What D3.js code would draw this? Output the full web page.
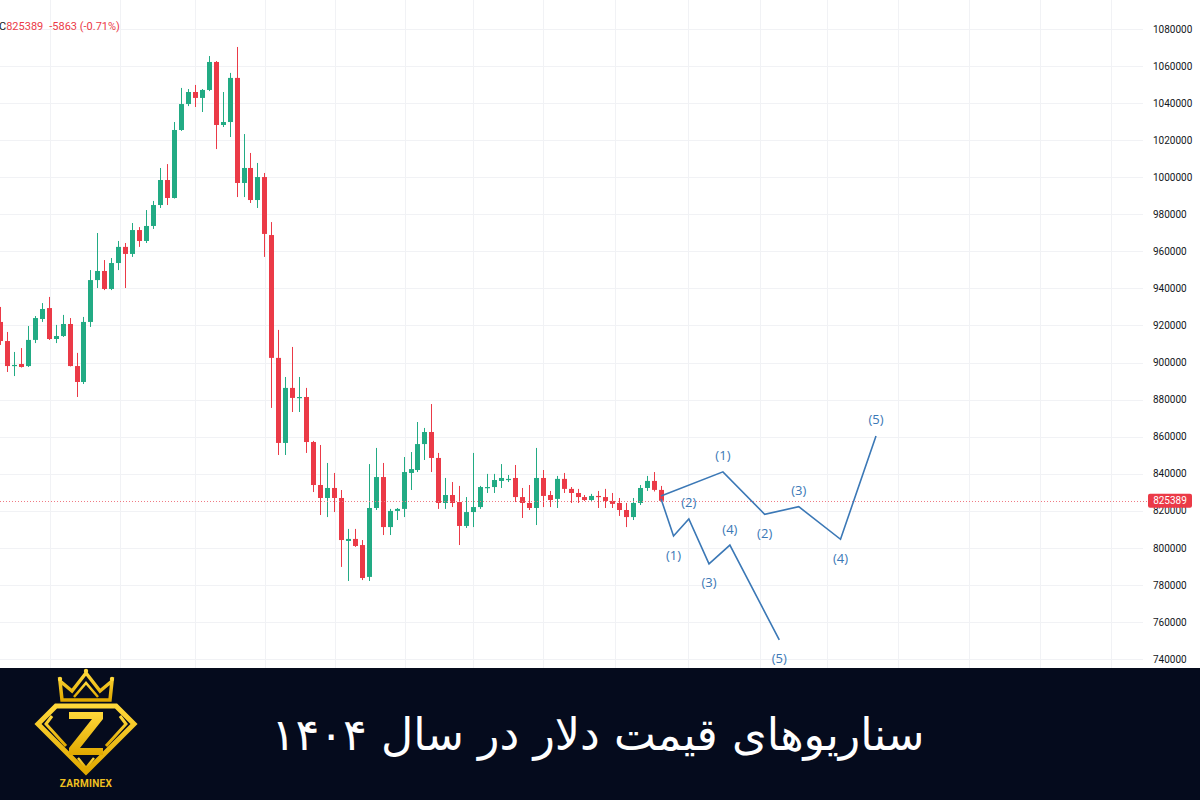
<!DOCTYPE html>
<html>
<head>
<meta charset="utf-8">
<script src="https://cdn.jsdelivr.net/npm/d3@7"></script>
<style>
  html, body { margin: 0; padding: 0; background: #ffffff; }
  svg { display: block; }
</style>
</head>
<body>
<svg id="chart" width="1200" height="800"></svg>
<script>
// ---------- DATA ----------
const opens = [921900,911600,898100,899200,898100,912200,923500,929400,912700,914300,
920800,898100,889500,921900,944500,949400,939700,953700,962400,958600,
971500,965600,973700,985000,998500,988800,1025500,1039500,1046000,1042800,
1047100,1062200,1028200,1029800,1053600,996900,1005000,987700,1000100,968800,
902500,856600,886300,880900,881400,857100,833900,826900,832300,826900,
803700,804800,801500,784300,821500,838200,811200,819900,821000,840400,
842000,856000,862500,848500,824200,828500,824700,811800,819300,822000,
832300,832800,836100,836600,837700,827400,824200,821500,837700,828500,
826400,837200,831800,829600,827400,825800,828000,827400,825300,824200,
820400,816600,824200,832300,836100,831250];
const highs = [930000,916500,905700,907800,919700,925100,932100,935400,920300,925700,
924000,905200,924600,949900,969900,955300,956400,965600,964500,975300,
973100,982300,987200,1005000,1007100,1029800,1048200,1047600,1049800,1047600,
1065400,1062700,1046000,1056300,1070300,1023300,1013100,1007700,1002300,975800,
917600,892200,908400,892200,886300,857700,855500,845800,840400,831200,
810200,810200,804200,845200,853900,845800,821000,821500,849000,851700,
867900,864700,877600,851200,837700,835500,833400,827400,851200,833400,
839900,839900,845200,839300,844700,832300,833900,853900,842000,830700,
838800,840400,832800,831800,828500,829100,830700,831800,829600,826900,
824200,826900,833900,838800,840900,833400];
const lows = [909500,894900,892700,897300,897600,910500,921900,912200,910500,913800,
897900,881400,888400,919200,940200,939100,939100,949900,940200,957000,
962400,964500,972100,983400,985000,988500,1025000,1038400,1037900,1035200,
1046500,1015200,1027100,1021700,989300,989300,986100,983400,957000,875500,
850100,850100,873300,873300,851200,830100,817700,816600,819300,789700,
782100,800500,782600,782100,820400,806900,806900,815000,816600,831200,
840900,847400,840900,821000,821000,822000,801500,810700,811200,821000,
829600,829600,832300,835500,824700,816100,820400,812300,822000,822000,
821500,829600,824200,824200,825300,825300,821500,821500,821500,817200,
811200,815000,823100,830700,830400,825100];
const closes = [911600,898100,898700,897600,912200,924000,928900,912700,914300,920800,
898100,889500,921900,944500,949400,939700,953700,962400,958600,971500,
965600,973700,985000,998500,988800,1025500,1039500,1046000,1042800,1047100,
1062200,1028200,1029800,1053600,996900,1005000,987700,1000100,969400,902500,
856600,886300,880900,881400,857100,833900,826900,832300,826900,804200,
804800,801000,783700,821500,838200,811200,819900,821000,840900,842500,
856000,862500,848500,824200,828500,824200,811800,819300,822000,832800,
832800,836600,837700,837200,827400,824200,821500,837700,828000,825800,
837200,831800,829600,827400,825800,828000,827400,825300,823700,820400,
816600,824200,832300,836100,831252,825389];

const yTicks = [740000,760000,780000,800000,820000,840000,860000,880000,900000,920000,
940000,960000,980000,1000000,1020000,1040000,1060000,1080000];
const vGridIdx = [7.2,17.2,28,38.1,48.1,58.2,68,78,88.4,98.9,109.2,118.9,129,139.3,149.4,159.7];

const lastPrice = 825389;
const headerClose = "825389";
const headerChange = "-5863 (-0.71%)";

// Elliott wave scenarios (x in candle-index units, y in price)
const bullX = [95, 103.9, 109.9, 114.8, 120.8, 125.9];
const bullY = [828000, 841000, 818100, 822200, 804600, 860400];
const bullLabels = ["", "(1)", "(2)", "(3)", "(4)", "(5)"];
const bullSide  = [0, -1, 1, -1, 1, -1];
const bearX = [95, 96.8, 99, 101.9, 104.9, 112];
const bearY = [826500, 806400, 815600, 791300, 801500, 750300];
const bearLabels = ["", "(1)", "(2)", "(3)", "(4)", "(5)"];
const bearSide  = [0, 1, -1, 1, -1, 1];

const titleText = "سناریوهای قیمت دلار در سال ۱۴۰۴";
const brandText = "ZARMINEX";

// ---------- LAYOUT ----------
const W = 1200, H = 800;
const plotRight = 1143;
const bannerTop = 668;
const upColor = "#22ab84";
const downColor = "#eb3a47";
const gridColor = "#f1f2f5";
const waveColor = "#3b78b6";

const svg = d3.select("#chart");

const x = d3.scaleLinear().domain([0, 95]).range([0, 661]);
const y = d3.scaleLinear().domain([740000, 1080000]).range([659, 29]);

// background
svg.append("rect").attr("x", 0).attr("y", 0).attr("width", W).attr("height", bannerTop).attr("fill", "#ffffff");

// grid
const grid = svg.append("g");
grid.selectAll("line.h").data(yTicks).enter().append("line")
  .attr("x1", 0).attr("x2", plotRight)
  .attr("y1", d => Math.round(y(d)) + 0.5).attr("y2", d => Math.round(y(d)) + 0.5)
  .attr("stroke", gridColor).attr("stroke-width", 1);
grid.selectAll("line.v").data(vGridIdx).enter().append("line")
  .attr("x1", d => Math.round(x(d)) + 0.5).attr("x2", d => Math.round(x(d)) + 0.5)
  .attr("y1", 0).attr("y2", bannerTop)
  .attr("stroke", gridColor).attr("stroke-width", 1);

// right axis
const axis = d3.axisRight(y).tickValues(yTicks).tickSize(0).tickPadding(0).tickFormat(d3.format("d"));
const axG = svg.append("g").attr("transform", `translate(1153,0)`).call(axis);
axG.select(".domain").remove();
axG.selectAll("text").attr("font-family", "Roboto, 'Open Sans', sans-serif")
  .attr("font-size", 10).attr("fill", "#131722").attr("text-anchor", "start");

// candles
const candles = opens.map((o, i) => ({ i, o, h: highs[i], l: lows[i], c: closes[i] }));
const cg = svg.append("g");
const bodyW = 5;
cg.selectAll("line.wick").data(candles).enter().append("line")
  .attr("x1", d => Math.round(x(d.i)) + 0.5).attr("x2", d => Math.round(x(d.i)) + 0.5)
  .attr("y1", d => y(d.h)).attr("y2", d => y(d.l))
  .attr("stroke", d => d.c >= d.o ? upColor : downColor).attr("stroke-width", 1);
cg.selectAll("rect.body").data(candles).enter().append("rect")
  .attr("x", d => Math.round(x(d.i)) - 2)
  .attr("y", d => y(Math.max(d.o, d.c)))
  .attr("width", bodyW)
  .attr("height", d => Math.max(1.2, Math.abs(y(d.o) - y(d.c))))
  .attr("fill", d => d.c >= d.o ? upColor : downColor);

// last price dotted line
svg.append("line")
  .attr("x1", 0).attr("x2", 1148)
  .attr("y1", Math.round(y(lastPrice)) + 0.5).attr("y2", Math.round(y(lastPrice)) + 0.5)
  .attr("stroke", "#f07a84").attr("stroke-width", 1).attr("stroke-dasharray", "1,2");

// price label
const pl = svg.append("g").attr("transform", `translate(1148,${y(lastPrice)})`);
pl.append("rect").attr("x", 0).attr("y", -7).attr("width", 44).attr("height", 14).attr("rx", 2).attr("fill", downColor);
pl.append("text").attr("x", 22).attr("y", 0).attr("dy", "0.35em").attr("text-anchor", "middle")
  .attr("font-family", "Roboto, sans-serif").attr("font-size", 10).attr("fill", "#ffffff").text(lastPrice);

// header text
const ht = svg.append("text").attr("x", -1).attr("y", 30)
  .attr("font-family", "Roboto, sans-serif").attr("font-size", 11);
ht.append("tspan").attr("fill", "#131722").text("C");
ht.append("tspan").attr("fill", downColor).text(headerClose);
ht.append("tspan").attr("fill", downColor).attr("dx", 6).text(headerChange);

// wave scenarios
function drawWave(xs, ys, labels, sides) {
  const pts = xs.map((v, i) => [x(v), y(ys[i])]);
  svg.append("path")
    .attr("d", d3.line()(pts))
    .attr("fill", "none").attr("stroke", waveColor).attr("stroke-width", 1.6)
    .attr("stroke-linejoin", "miter");
  svg.append("g").selectAll("text").data(pts.map((p, i) => ({ p, t: labels[i], s: sides[i] })).filter(d => d.t))
    .enter().append("text")
    .attr("x", d => d.p[0]).attr("y", d => d.p[1] + (d.s < 0 ? -16 : 19))
    .attr("dy", "0.35em").attr("text-anchor", "middle")
    .attr("font-family", "'Open Sans', Roboto, sans-serif").attr("font-size", 13)
    .attr("fill", waveColor).text(d => d.t);
}
drawWave(bullX, bullY, bullLabels, bullSide);
drawWave(bearX, bearY, bearLabels, bearSide);

// banner
svg.append("rect").attr("x", 0).attr("y", bannerTop).attr("width", W).attr("height", H - bannerTop).attr("fill", "#050b1d");

// logo
const defs = svg.append("defs");
const grad = defs.append("linearGradient").attr("id", "gold").attr("x1", 0).attr("y1", 0).attr("x2", 0).attr("y2", 1);
grad.append("stop").attr("offset", "0%").attr("stop-color", "#ffd83a");
grad.append("stop").attr("offset", "100%").attr("stop-color", "#e0a800");
const logo = svg.append("g").attr("transform", "translate(86,0)");
// crown
logo.append("path")
  .attr("d", "M-24,700 L-26,681 L-14,691 L0,673 L14,691 L26,681 L24,700 Z")
  .attr("fill", "none").attr("stroke", "url(#gold)").attr("stroke-width", 3.5).attr("stroke-linejoin", "miter");
logo.append("path")
  .attr("d", "M-12,697 L0,683 L12,697")
  .attr("fill", "none").attr("stroke", "url(#gold)").attr("stroke-width", 2.5);
[[-26, 679], [0, 671], [26, 679]].forEach(p => {
  logo.append("circle").attr("cx", p[0]).attr("cy", p[1]).attr("r", 2.2).attr("fill", "#ffd83a");
});
// diamond
logo.append("path")
  .attr("d", "M-30,706 L30,706 L48,724 L0,772 L-48,724 Z")
  .attr("fill", "none").attr("stroke", "url(#gold)").attr("stroke-width", 5).attr("stroke-linejoin", "miter");
logo.append("path")
  .attr("d", "M-34,716 L-40,724 L-20,746 M34,716 L40,724 L20,746")
  .attr("fill", "none").attr("stroke", "url(#gold)").attr("stroke-width", 3);
// Z
logo.append("path")
  .attr("d", "M-17,712 L17,712 L17,719 L-6,748 L17,748 L17,755 L-17,755 L-17,748 L6,719 L-17,719 Z")
  .attr("fill", "url(#gold)");
logo.append("path")
  .attr("d", "M-8,758 L0,768 L8,758")
  .attr("fill", "none").attr("stroke", "url(#gold)").attr("stroke-width", 2.5);
logo.append("text").attr("x", 0).attr("y", 787).attr("text-anchor", "middle")
  .attr("font-family", "Roboto, 'DejaVu Sans', sans-serif").attr("font-weight", "bold")
  .attr("font-size", 10).attr("fill", "#f0c020").attr("letter-spacing", 0.3).text(brandText);

// title
const title = svg.append("text")
  .attr("x", 598).attr("y", 750)
  .attr("text-anchor", "middle").attr("direction", "rtl")
  .attr("font-family", "'DejaVu Sans', 'Noto Sans', sans-serif")
  .attr("font-size", 38).attr("fill", "#ffffff").text(titleText);
const tw = title.node().getComputedTextLength();
if (tw > 0) title.attr("font-size", 38 * 653 / tw);
</script>
</body>
</html>
